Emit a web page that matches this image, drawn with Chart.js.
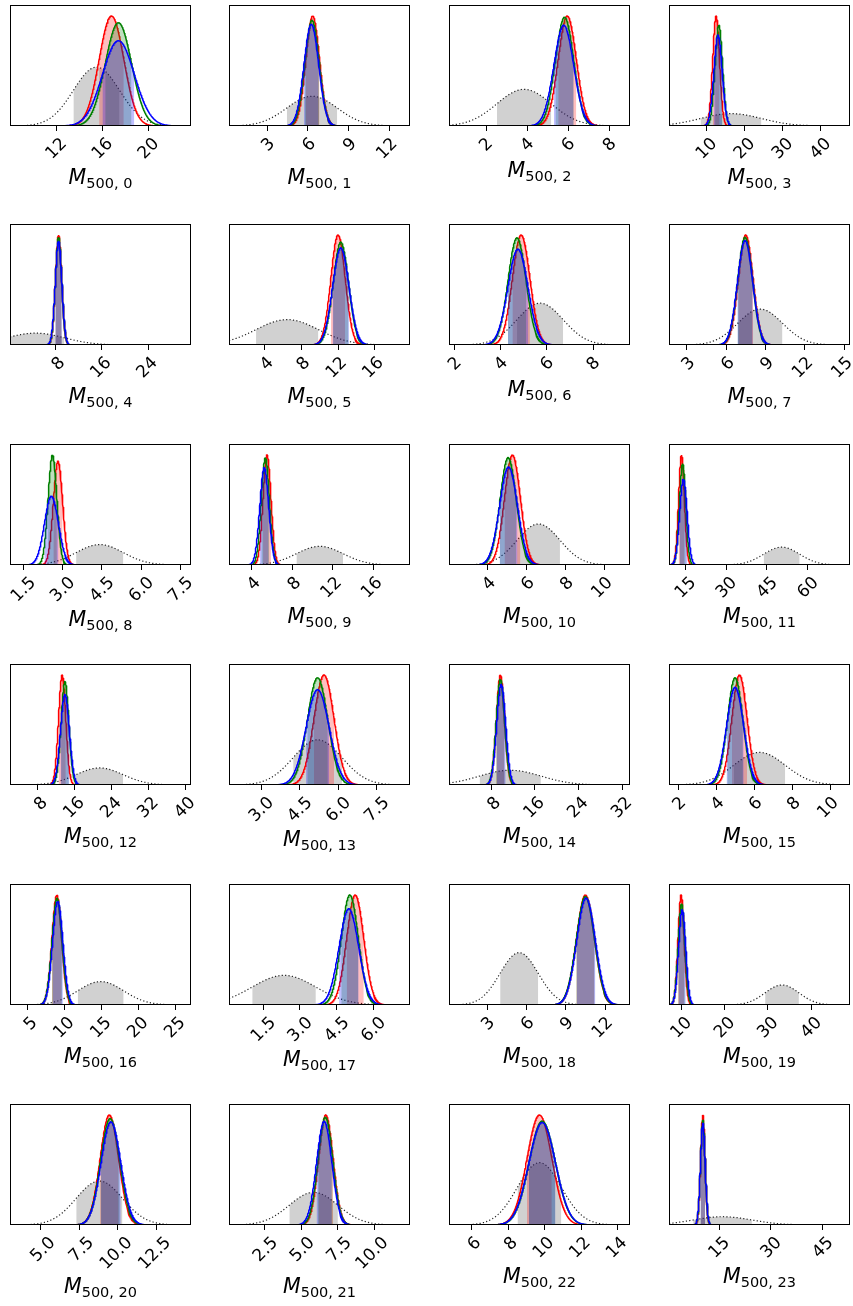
<!DOCTYPE html>
<html>
<head>
<meta charset="utf-8">
<script src="https://cdn.jsdelivr.net/npm/chart.js@4.4.0/dist/chart.umd.min.js"></script>
<style>
body { margin: 0; background: #fff; }
#fig { position: relative; width: 853px; height: 1306px; overflow: hidden; background: #fff; }
#fig canvas { position: absolute; }
.lbl { position: absolute; width: 181px; text-align: center; font-family: "DejaVu Sans"; font-size: 20.5px; line-height: 20.5px; white-space: nowrap; color: #000; }
.lbl i { font-style: oblique; }
.lbl span { font-size: 14.5px; position: relative; top: 4px; }
</style>
</head>
<body>
<div id="fig"></div>
<script>
// x limits of each of the 24 panels
const xMin = [8.0, 0.2, 0.2, 0.2, 0.1, 0.1, 1.75, 1.65, 1.0, 1.75, 2.0, 9.0,
              2.0, 1.75, 0.3, 1.5, 2.65, 0.1, 0.1, 7.2, 3.0, 0.1, 4.75, 0.5];
const xMax = [23.7, 13.5, 9.0, 47.8, 31.4, 19.85, 9.6, 15.45, 7.9, 19.6, 11.3, 75.5,
              41.2, 8.8, 33.4, 11.0, 27.1, 7.5, 13.9, 49.0, 14.75, 12.4, 14.66, 52.9];

// tick labels of each panel
const tickLabels = [
  ['12', '16', '20'], ['3', '6', '9', '12'], ['2', '4', '6', '8'], ['10', '20', '30', '40'],
  ['8', '16', '24'], ['4', '8', '12', '16'], ['2', '4', '6', '8'], ['3', '6', '9', '12', '15'],
  ['1.5', '3.0', '4.5', '6.0', '7.5'], ['4', '8', '12', '16'], ['4', '6', '8', '10'], ['15', '30', '45', '60'],
  ['8', '16', '24', '32', '40'], ['3.0', '4.5', '6.0', '7.5'], ['8', '16', '24', '32'], ['2', '4', '6', '8', '10'],
  ['5', '10', '15', '20', '25'], ['1.5', '3.0', '4.5', '6.0'], ['3', '6', '9', '12'], ['10', '20', '30', '40'],
  ['5.0', '7.5', '10.0', '12.5'], ['2.5', '5.0', '7.5', '10.0'], ['6', '8', '10', '12', '14'], ['15', '30', '45']
];

// prior (grey, dotted): centre and width
const priorMu = [15.5, 6.3, 3.85, 16.5, 4.5, 6.45, 5.7, 8.6, 4.42, 10.7, 6.6, 50.4,
                 21.4, 5.2, 11.5, 6.25, 14.9, 2.35, 5.45, 33.3, 8.8, 5.85, 9.7, 16.0];
const priorSd = [2.0, 1.85, 1.32, 8.0, 5.0, 3.4, 1.0, 1.7, 0.9, 2.3, 1.1, 6.6,
                 5.1, 0.95, 5.6, 1.35, 3.1, 1.3, 1.45, 3.9, 1.5, 1.65, 1.2, 8.5];

// red posterior
const redMu = [16.8, 6.35, 5.95, 12.6, 8.5, 12.0, 4.88, 7.5, 2.83, 5.5, 5.26, 13.6,
               13.3, 5.45, 9.7, 5.2, 8.97, 5.26, 10.5, 10.0, 9.45, 6.68, 9.7, 10.3];
const redSd = [1.07, 0.5, 0.44, 0.9, 0.54, 0.785, 0.38, 0.555, 0.177, 0.39, 0.41, 1.07,
               0.79, 0.39, 0.75, 0.4, 0.66, 0.35, 0.69, 0.71, 0.6, 0.49, 0.68, 0.64];

// green posterior
const greenMu = [17.4, 6.3, 5.82, 13.3, 8.5, 12.3, 4.7, 7.45, 2.62, 5.34, 5.04, 14.0,
                 13.9, 5.2, 9.7, 4.97, 9.0, 5.04, 10.5, 10.1, 9.5, 6.65, 9.85, 10.3];
const greenSd = [1.14, 0.52, 0.445, 0.98, 0.55, 0.84, 0.39, 0.567, 0.167, 0.4, 0.42, 1.16,
                 0.84, 0.4, 0.78, 0.41, 0.68, 0.35, 0.7, 0.77, 0.62, 0.5, 0.72, 0.67];

// blue posterior
const blueMu = [17.4, 6.25, 5.78, 13.1, 8.5, 12.3, 4.74, 7.45, 2.58, 5.23, 5.06, 14.3,
                13.9, 5.2, 9.85, 4.97, 9.1, 5.0, 10.55, 10.25, 9.55, 6.57, 9.85, 10.3];
const blueSd = [1.38, 0.54, 0.48, 1.09, 0.57, 0.89, 0.436, 0.584, 0.267, 0.44, 0.46, 1.37,
                0.96, 0.45, 0.82, 0.45, 0.7, 0.4, 0.71, 0.82, 0.64, 0.52, 0.73, 0.69];

const colLeft = [10, 229, 449, 669];
const rowTop = [5, 224, 444, 664, 884, 1104];
const boxW = 181, boxH = 121;
const padL = 40, padR = 40, padT = 6, axisH = 80;
const tickSize = 17;

function pdf(x, mu, sd) {
    var z = (x - mu) / sd;
    return Math.exp(-0.5 * z * z) / (sd * Math.sqrt(2 * Math.PI));
}

function curve(mu, sd, a, b, n) {
    var pts = [];
    for (var i = 0; i <= n; i++) {
        var x = a + (b - a) * i / n;
        pts.push({x: x, y: pdf(x, mu, sd)});
    }
    return pts;
}

const measure = document.createElement('canvas').getContext('2d');
measure.font = tickSize + 'px "DejaVu Sans"';

const frame = {
    id: 'frame',
    afterDatasetsDraw(chart) {
        const a = chart.chartArea, c = chart.ctx;
        c.save();
        c.strokeStyle = '#000';
        c.lineWidth = 1;
        c.strokeRect(a.left + 0.5, a.top + 0.5, a.right - a.left - 1, a.bottom - a.top - 1);
        c.restore();
    }
};

const fig = document.getElementById('fig');

for (let p = 0; p < 24; p++) {
    const col = p % 4, row = Math.floor(p / 4);
    const lo = xMin[p], hi = xMax[p];
    const labels = tickLabels[p];
    const values = labels.map(s => parseFloat(s));

    const cv = document.createElement('canvas');
    cv.width = boxW + padL + padR;
    cv.height = boxH + padT + axisH;
    cv.style.left = (colLeft[col] - padL) + 'px';
    cv.style.top = (rowTop[row] - padT) + 'px';
    fig.appendChild(cv);

    const curves = [
        {mu: priorMu[p], sd: priorSd[p], line: '#222', fill: 'rgba(128,128,128,0.36)', prior: true},
        {mu: redMu[p], sd: redSd[p], line: '#ff0000', fill: 'rgba(255,0,0,0.25)'},
        {mu: greenMu[p], sd: greenSd[p], line: '#008000', fill: 'rgba(0,128,0,0.25)'},
        {mu: blueMu[p], sd: blueSd[p], line: '#0000ff', fill: 'rgba(0,0,255,0.25)'}
    ];

    let top = 0;
    curves.forEach(c => { top = Math.max(top, pdf(c.mu, c.mu, c.sd)); });

    const datasets = [];
    curves.forEach(c => {
        const a = c.prior ? lo : Math.max(lo, c.mu - 6 * c.sd);
        const b = c.prior ? hi : Math.min(hi, c.mu + 6 * c.sd);
        datasets.push({
            data: curve(c.mu, c.sd, Math.max(lo, c.mu - c.sd), Math.min(hi, c.mu + c.sd), 60),
            borderWidth: 0,
            backgroundColor: c.fill,
            fill: 'origin',
            pointRadius: 0
        });
        datasets.push({
            data: curve(c.mu, c.sd, a, b, 300),
            borderColor: c.line,
            borderWidth: c.prior ? 1.2 : 1.5,
            borderDash: c.prior ? [1.2, 2.2] : [],
            fill: false,
            pointRadius: 0
        });
    });
    datasets.forEach((d, k) => { d.order = datasets.length - k; });

    let wSum = 0, wMax = 0;
    labels.forEach(s => { const w = measure.measureText(s).width; wSum += w; wMax = Math.max(wMax, w); });
    const offset = 0.354 * (wSum / labels.length) + 0.5;

    new Chart(cv, {
        type: 'line',
        data: {datasets: datasets},
        options: {
            responsive: false,
            animation: false,
            devicePixelRatio: 1,
            events: [],
            layout: {padding: {left: padL, right: padR, top: padT, bottom: 0}},
            plugins: {legend: {display: false}, tooltip: {enabled: false}},
            scales: {
                x: {
                    type: 'linear',
                    min: lo,
                    max: hi,
                    border: {display: false},
                    grid: {display: true, drawOnChartArea: false, drawTicks: true, tickLength: 5, tickColor: '#000', tickWidth: 1},
                    ticks: {
                        minRotation: 45,
                        maxRotation: 45,
                        autoSkip: false,
                        padding: 3,
                        labelOffset: offset,
                        color: '#000',
                        font: {family: 'DejaVu Sans', size: tickSize},
                        callback: (v, i) => labels[i]
                    },
                    afterBuildTicks: s => { s.ticks = values.map(v => ({value: v})); },
                    afterFit: s => { s.height = axisH; s.paddingLeft = 0; s.paddingRight = 0; }
                },
                y: {display: false, min: 0, max: top * 1.1}
            }
        },
        plugins: [frame]
    });

    const lbl = document.createElement('div');
    lbl.className = 'lbl';
    lbl.style.left = colLeft[col] + 'px';
    lbl.style.top = (rowTop[row] + boxH + 45 + 0.61 * wMax - 17.3) + 'px';
    lbl.innerHTML = '<i>M</i><span>500, ' + p + '</span>';
    fig.appendChild(lbl);
}
</script>
</body>
</html>
